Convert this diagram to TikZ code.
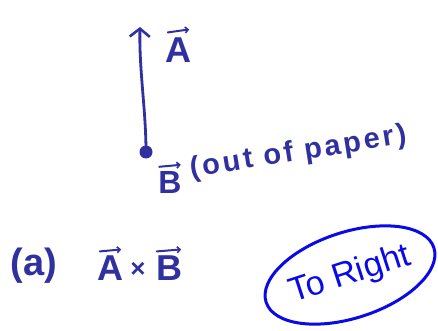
\documentclass[tikz,border=0pt]{standalone}
\usepackage{fontspec}
\setmainfont{Liberation Sans}
\usetikzlibrary{arrows.meta,shapes.geometric}
\definecolor{inkBlue}{RGB}{48,48,160}
\definecolor{penBlue}{RGB}{10,10,230}
\tikzset{
  ink/.style={text=inkBlue, inner sep=0pt, font=\fontsize{36}{38}\selectfont\bfseries},
  vecline/.style={-{Straight Barb[length=8pt,width=20pt,line width=2.6pt]}, line width=2.8pt, draw=inkBlue, line cap=round},
  accent/.style={-{Straight Barb[length=3pt,width=6pt,line width=1.6pt]}, line width=2pt, draw=inkBlue, line cap=round},
  answer/.style={ellipse, draw=penBlue, line width=3pt, text=penBlue, inner sep=0pt,
    minimum width=176pt, minimum height=86pt, font=\fontsize{34}{36}\selectfont}
}

\begin{document}
\begin{tikzpicture}[x=1pt,y=-1pt]
    \useasboundingbox (0,0) rectangle (438,331);
    % vector A pointing up from the dot
    \node[circle, fill=inkBlue, minimum size=13pt, inner sep=0pt] (dotB) at (146,152) {};
    \coordinate (tipA) at (140,27);
    \draw[vecline] (dotB.center) .. controls (146,110) and (139,70) .. (tipA);
    \node[ink] (labA) at (178,50) {A};
    \draw[accent] ([xshift=3pt,yshift=5pt]labA.north west) -- ([xshift=-2pt,yshift=8pt]labA.north east);
    % B out of paper
    \node[ink, font=\fontsize{32}{34}\selectfont\bfseries] (labB) at (170,182) {B};
    \draw[accent] ([xshift=1pt,yshift=4pt]labB.north west) -- ([xshift=-1pt,yshift=6pt]labB.north east);
    \node[ink, font=\fontsize{29}{32}\selectfont\bfseries\addfontfeature{LetterSpace=10}, rotate=9, anchor=west] (outof) at (190,170) {(out of paper)};
    % part (a)
    \node[ink, font=\fontsize{38}{40}\selectfont\bfseries] (parta) at (34,266) {(a)};
    \node[ink] (crossA) at (110,268) {A};
    \node[ink, font=\fontsize{26}{28}\selectfont\bfseries] (times) at (138,270) {×};
    \node[ink] (crossB) at (169,268) {B};
    \draw[accent] ([xshift=3pt,yshift=4pt]crossA.north west) -- ([xshift=-2pt,yshift=6pt]crossA.north east);
    \draw[accent] ([xshift=1pt,yshift=4pt]crossB.north west) -- ([xshift=-1pt,yshift=6pt]crossB.north east);
    % answer
    \node[answer, rotate=18] (ans) at (350,275) {To Right};
\end{tikzpicture}
\end{document}
